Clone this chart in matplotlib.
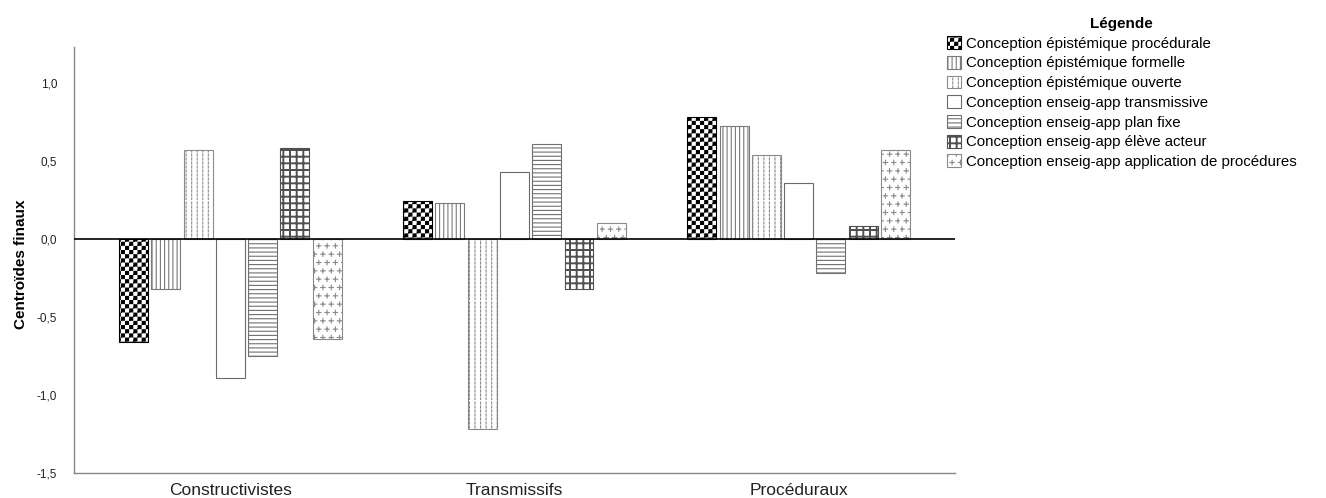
import warnings
import numpy as np
import matplotlib
matplotlib.use("Agg")
import matplotlib.pyplot as plt
import matplotlib.hatch as mhatch
from matplotlib.path import Path

warnings.filterwarnings("ignore")

# données
groupes = ["Constructivistes", "Transmissifs", "Proc\u00e9duraux"]
series = [
    "Conception \u00e9pist\u00e9mique proc\u00e9durale",
    "Conception \u00e9pist\u00e9mique formelle",
    "Conception \u00e9pist\u00e9mique ouverte",
    "Conception enseig-app transmissive",
    "Conception enseig-app plan fixe",
    "Conception enseig-app \u00e9l\u00e8ve acteur",
    "Conception enseig-app application de proc\u00e9dures",
]
valeurs = [
    [-0.66, 0.24, 0.78],
    [-0.32, 0.23, 0.72],
    [0.57, -1.22, 0.54],
    [-0.89, 0.43, 0.36],
    [-0.75, 0.61, -0.22],
    [0.58, -0.32, 0.08],
    [-0.64, 0.10, 0.57],
]
yticks = [-1.5, -1.0, -0.5, 0.0, 0.5, 1.0]


def carre(x0, y0, x1, y1):
    return [(x0, y0), (x1, y0), (x1, y1), (x0, y1), (x0, y0)]


# motifs "SPSS" : damier (c), pointillés verticaux (d), quadrillage (g), petites croix (p)
class MotifSpss(mhatch.HatchPatternBase):
    def __init__(self, hatch, density):
        self.segs = []
        if 'c' in hatch:
            n = 24
            e = 0.006
            for i in range(n):
                for j in range(n):
                    if (i + j) % 2 == 0:
                        self.segs.append(carre(i / n + e, j / n + e,
                                               (i + 1) / n - e, (j + 1) / n - e))
        if 'd' in hatch:
            n = 18
            m = 25
            for i in range(n):
                x = (i + 0.5) / n
                for j in range(m):
                    y = j / m
                    self.segs.append([(x, y), (x, y + 0.5 / m)])
        if 'g' in hatch:
            n = 15
            w = 0.004
            for i in range(n):
                c = (i + 0.5) / n
                self.segs.append(carre(c - w, 0, c + w, 1))
                self.segs.append(carre(0, c - w, 1, c + w))
        if 'p' in hatch:
            n = 12
            a = 0.022
            for j in range(n):
                y = (j + 0.5) / n
                dx = 0.5 / n if j % 2 else 0.0
                for i in range(n):
                    x = (i + 0.25) / n + dx
                    self.segs.append([(x - a, y), (x + a, y)])
                    self.segs.append([(x, y - a), (x, y + a)])
        self.num_vertices = sum(len(s) for s in self.segs)

    def set_vertices_and_codes(self, vertices, codes):
        k = 0
        for s in self.segs:
            n = len(s)
            vertices[k:k + n] = s
            codes[k] = Path.MOVETO
            codes[k + 1:k + n] = Path.LINETO
            k += n


mhatch._hatch_types.append(MotifSpss)

motifs = ['c', '||||', 'd', '', '----', 'g', 'p']
bords = ['black', '#7a7a7a', '#8a8a8a', '#6a6a6a', '#707070', '#505050', '#8a8a8a']

plt.rcParams['font.family'] = ['Liberation Sans', 'DejaVu Sans']
plt.rcParams['hatch.linewidth'] = 0.8

fig = plt.figure(figsize=(13.26, 4.98), dpi=100)
ax = fig.add_axes([0.0558, 0.050, 0.6644, 0.856])

x = np.arange(len(groupes))
pas = 0.1135
larg = 0.102
for k, (nom, vals) in enumerate(zip(series, valeurs)):
    pos = x + (k - 3) * pas
    ax.bar(pos, vals, width=larg, facecolor='white', edgecolor=bords[k],
           hatch=motifs[k], linewidth=0.8, label=nom, zorder=2)

ax.axhline(0, color='black', linewidth=1.2, zorder=3)

ax.set_xlim(-0.55, 2.55)
ax.set_ylim(-1.5, 1.23)
ax.set_yticks(yticks)
ax.set_yticklabels([f"{v:.1f}".replace('.', ',') for v in yticks], fontsize=8.5, color='#222222')
ax.set_xticks(x)
ax.set_xticklabels(groupes, fontsize=12.5, color='#222222')
ax.tick_params(axis='y', length=0, pad=12)
ax.tick_params(axis='x', length=0, pad=7)

for s in ['top', 'right']:
    ax.spines[s].set_visible(False)
for s in ['left', 'bottom']:
    ax.spines[s].set_color('#888888')
    ax.spines[s].set_linewidth(1.0)

ax.set_ylabel("Centro\u00efdes finaux", fontsize=11, fontweight='bold')
ax.yaxis.set_label_coords(-0.052, 0.49)

leg = fig.legend(loc='upper left', bbox_to_anchor=(0.7095, 0.978), frameon=False,
                 title="L\u00e9gende", fontsize=10.8, handlelength=0.95,
                 handleheight=0.95, handletextpad=0.3, labelspacing=0.34,
                 borderaxespad=0)
leg.get_title().set_fontweight('bold')
leg.get_title().set_fontsize(11)

fig.savefig("out.png", dpi=100)
